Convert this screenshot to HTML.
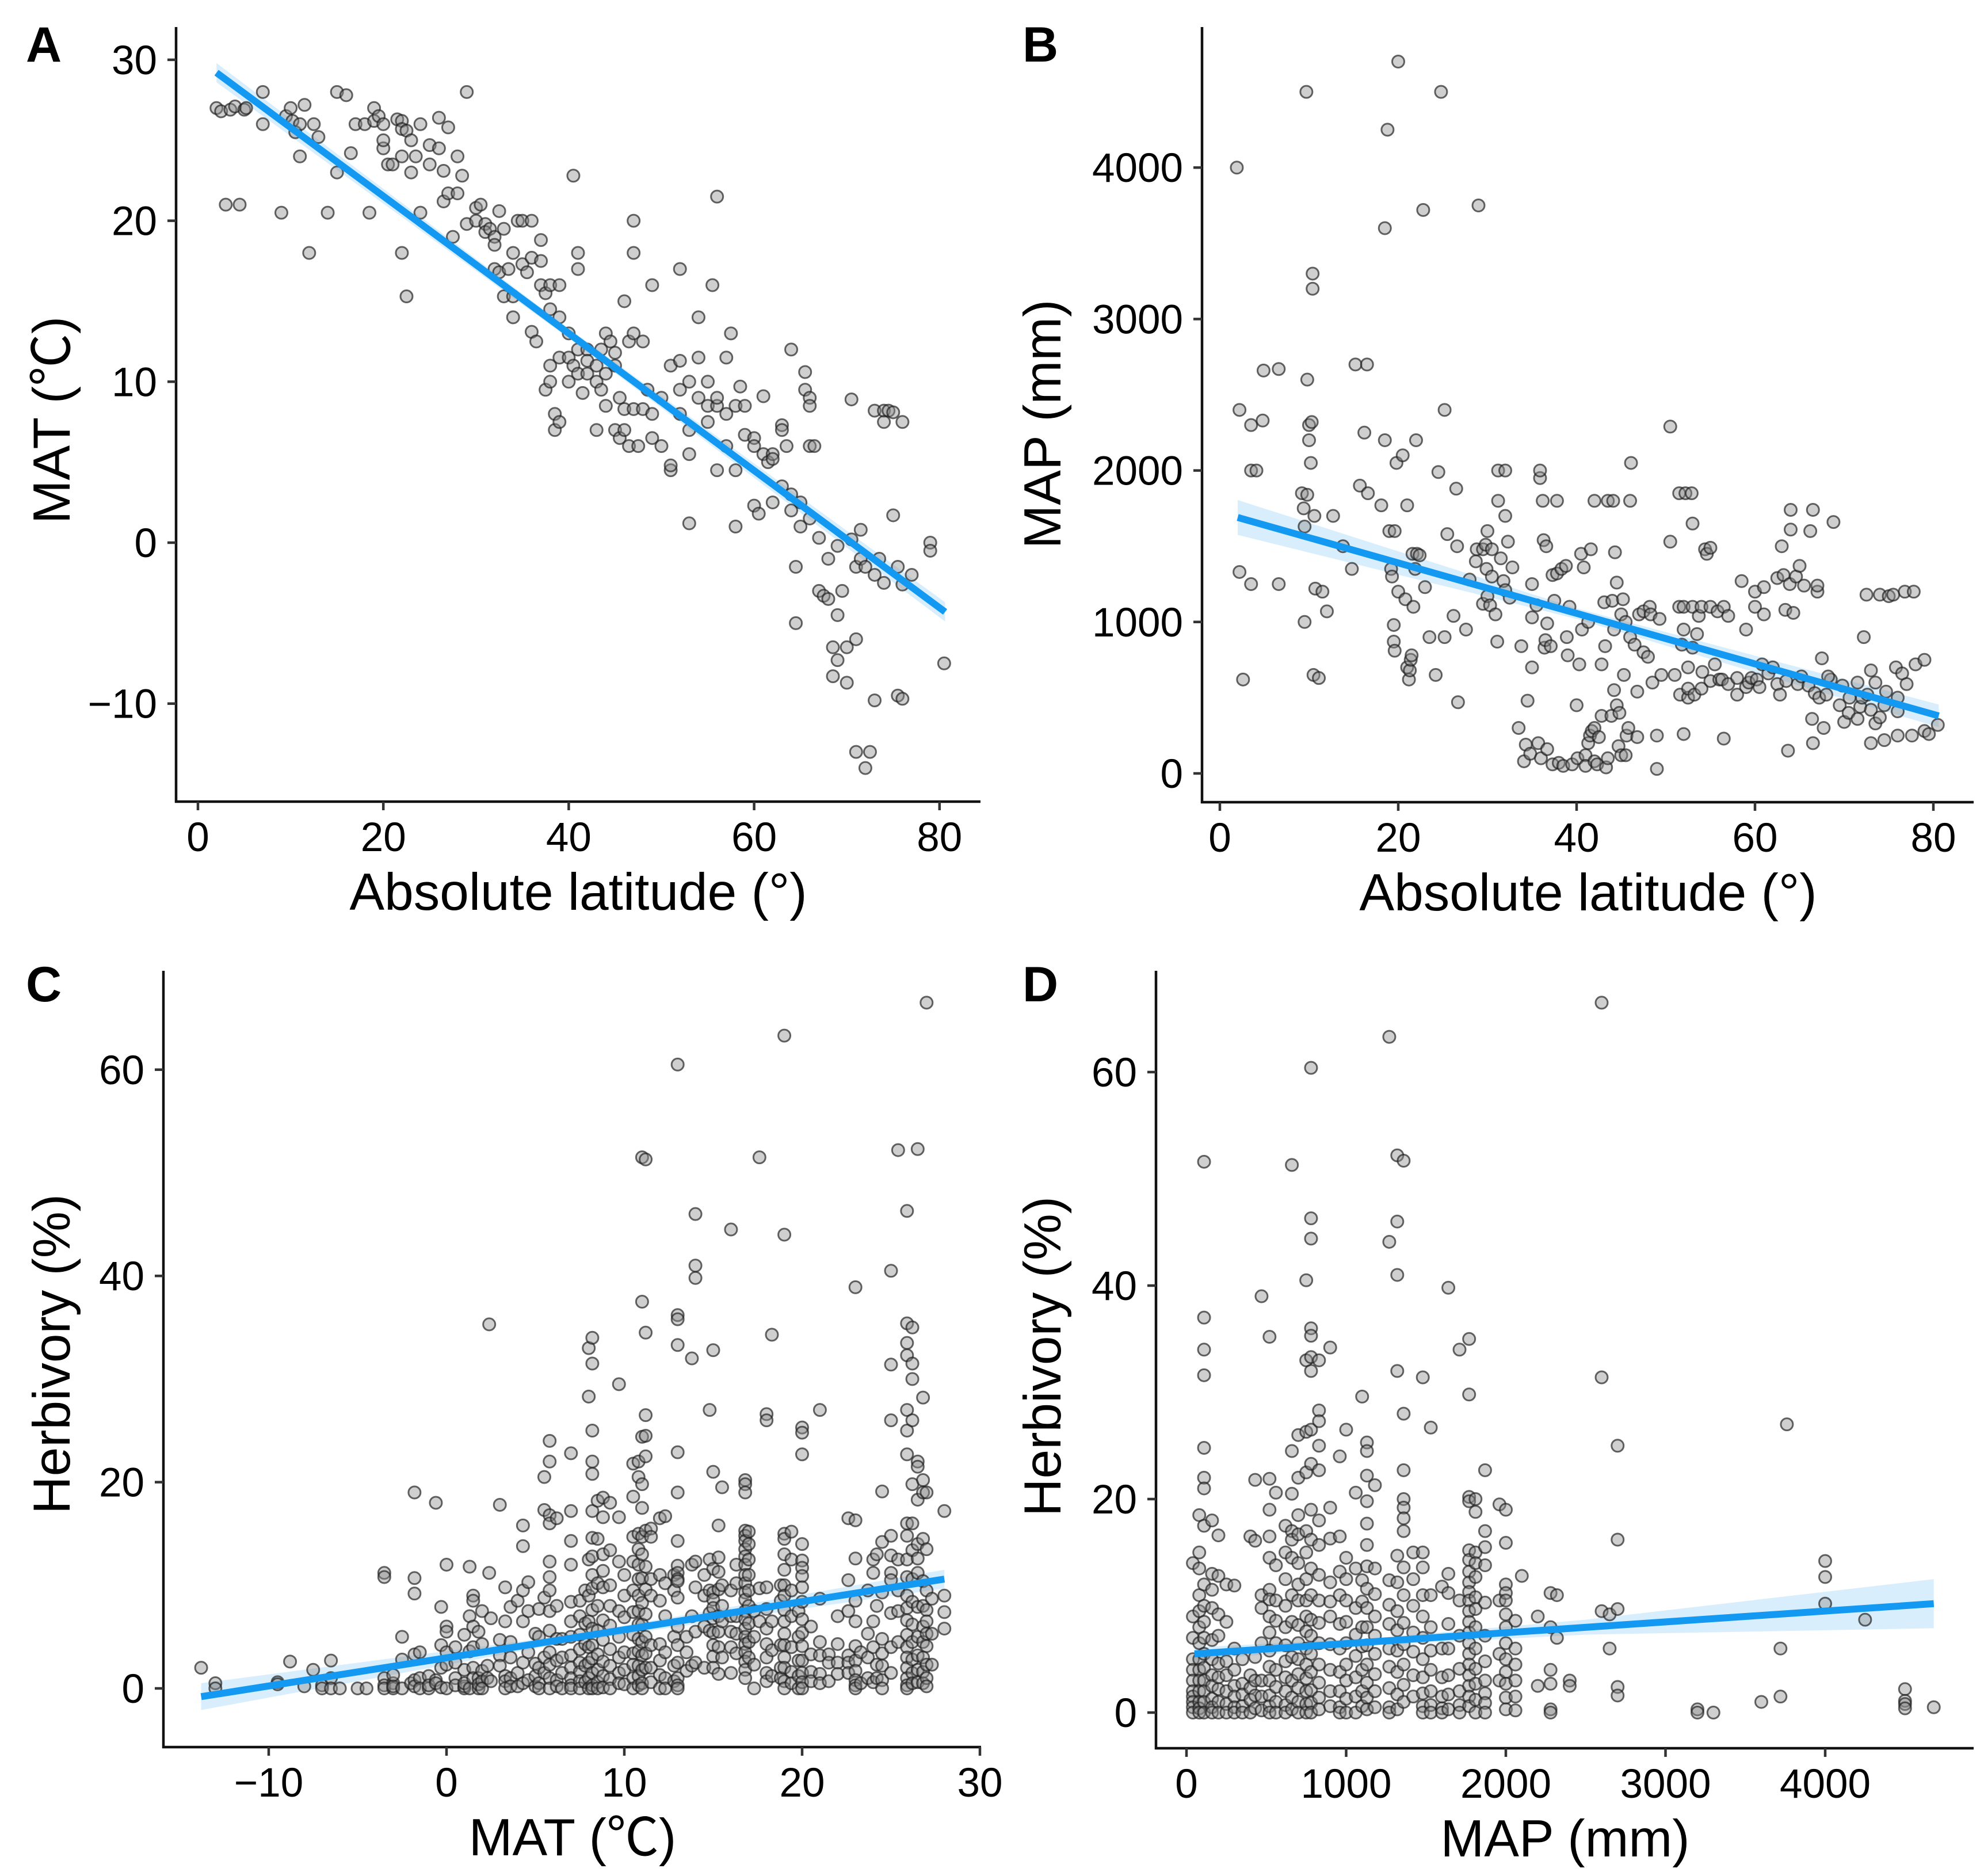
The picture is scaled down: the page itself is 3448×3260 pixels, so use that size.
<!DOCTYPE html>
<html><head><meta charset="utf-8"><title>Climate and herbivory scatter plots</title>
<style>
html,body{margin:0;padding:0;background:#fff;}
svg{display:block;font-family:"Liberation Sans","Noto Sans CJK SC",sans-serif;}
</style></head>
<body>
<svg id="fig" width="3448" height="3260" viewBox="0 0 3448 3260" xmlns="http://www.w3.org/2000/svg"></svg>
<script>
// ---------- Panel A data: [absolute latitude, MAT] ----------
const pointsA = [[2,27],[2.5,26.8],[3,21],[3.5,26.9],[4,27.1],[4.5,21],[5,26.9],[5.2,27],[7,26],[7,28],[9,20.5],[9.5,26.5],[10,27],[10.2,26.2],[10.5,25.5],[11,26],[11,24],[11.5,27.2],[12,18],[12.5,26],[13,25.2],[14,20.5],[15,23],[15,28],[16,27.8],[16.5,24.2],[17,26],[18,26],[18.5,20.5],[19,26.2],[19,27],[19.5,26.5],[20,26],[20,24.5],[20,25],[20.5,23.5],[21,23.5],[21.5,26.3],[22,26.2],[22,25.7],[22,24],[22,18],[22.5,25.6],[22.5,15.3],[23,25],[23,23],[23.5,24],[24,26],[24,20.5],[25,24.7],[25,23.5],[26,26.4],[26,24.5],[26.5,23.1],[26.5,21.2],[27,21.7],[27,25.8],[27.5,19],[28,21.7],[28,24],[28.5,22.8],[29,28],[29,19.8],[30,20.8],[30,20],[30.5,21],[31,19.8],[31,19.3],[31.5,19.5],[32,19],[32,18.5],[32,17],[32.5,16.8],[32.5,20.6],[33,19.5],[33,15.3],[33.5,17],[34,18],[34,15.3],[34,14],[34.5,20],[35,20],[35,17.3],[35.5,16.8],[36,20],[36,17.7],[36,13.1],[36.5,12.5],[37,18.8],[37,17.5],[37,16],[37.5,15.5],[37.5,9.5],[38,16],[38,14.5],[38,11],[38,10],[38.5,8],[38.5,7],[39,14],[39,16],[39,11.5],[39,7.5],[40,13],[40,11.5],[40,10],[40.5,11],[40.5,22.8],[41,12],[41,10.5],[41,18],[41,17],[41.5,9.3],[42,12],[42,11.3],[42,10.5],[43,11],[43,10],[43,7],[43.5,9.5],[43.5,12],[44,13],[44,10.5],[44,8.5],[44.5,12.5],[45,11.8],[45,11],[45,7],[45.5,9],[45.5,6.5],[46,15],[46,8.3],[46,7],[46.5,12.5],[46.5,6],[47,20],[47,18],[47,13],[47,8.3],[47.5,6],[48,12.5],[48,8.3],[48.5,9.5],[49,16],[49,8],[49,6.5],[50,9],[50,6],[51,4.5],[51,4.8],[51,11],[52,11.3],[52,9.5],[52,8],[52,17],[53,10],[53,7],[53,5.5],[53,1.2],[54,11.5],[54,14],[54,9],[55,10],[55,8.5],[55,7.5],[55.5,16],[56,8.5],[56,4.5],[56,21.5],[56,9],[57,11.5],[57,8],[57,6],[57.5,13],[58,8.5],[58,4.5],[58,1],[58.5,9.7],[59,8.5],[59,6.7],[60,6.5],[60,6],[60,2.3],[60.5,1.8],[61,5.5],[61,9.1],[61.5,5],[62,5.5],[62,5.2],[62,2.5],[63,7.3],[63,7],[63,3.5],[63.5,6],[64,12],[64,3],[64,2],[64.5,-1.5],[64.5,-5],[65,2.5],[65,1],[65.5,10.6],[65.5,9.5],[66,9],[66,8.5],[66,1.5],[66,6],[66.5,6],[67,0.3],[67,-3],[67.5,-3.3],[68,-3.5],[68,-1],[68.5,-6.5],[68.5,-8.3],[69,-4.5],[69,-7.3],[69,-0.2],[69.5,-3],[70,-6.5],[70,-8.7],[70.5,8.9],[70.5,0.2],[71,-1.5],[71,-6],[71,-13],[71.5,0.8],[71.5,-1],[72,-1.5],[72,-14],[72.5,-13],[73,8.2],[73,-9.8],[73,-2],[73.5,-1],[74,8.2],[74,7.5],[74,-2.5],[74.5,8.2],[75,8.1],[75,1.7],[75.5,-1.5],[75.5,-9.5],[76,-2.6],[76,-9.7],[76,7.5],[77,-2],[79,0],[79,-0.5],[80.5,-7.5]];
const fitA = {x:[2,40,80.6], y:[29.2,13.0,-4.3], lo:[28.6,12.7,-4.9], hi:[29.8,13.3,-3.7]};
const ticksAx = [0,20,40,60,80];
const ticksAy = [-10,0,10,20,30];

// ---------- Panel B data: [absolute latitude, MAP] ----------
const pointsB = [[1.9,4000],[2.2,2400],[2.2,1330],[2.6,620],[3.5,2300],[3.5,1250],[3.5,2000],[4.1,2000],[4.8,2330],[6.6,2670],[6.6,1250],[4.9,2660],[9.2,1850],[9.4,1750],[9.5,1630],[9.5,1000],[9.7,4500],[9.8,2600],[9.8,1840],[10,2300],[10,2200],[10.2,2050],[10.3,2320],[10.6,1700],[10.5,650],[10.4,3300],[10.4,3200],[10.7,1220],[11.1,630],[11.5,1200],[12,1070],[12.7,1700],[13.8,1500],[14.8,1350],[15.2,2700],[15.7,1900],[16.5,2700],[16.6,1850],[16.2,2250],[18.1,1770],[18.5,2200],[18.5,3600],[18.8,4250],[19,1600],[19.2,1350],[19.3,1300],[19.5,980],[19.5,870],[19.6,810],[19.6,1600],[19.8,2050],[20,1200],[20,4700],[20.5,2100],[20.8,1150],[21,1770],[21,700],[21.2,620],[21.3,680],[21.4,750],[21.5,780],[21.7,1100],[21.6,1450],[21.9,1350],[22.1,1450],[22,2200],[22.4,1440],[22.8,3720],[23,1230],[23.5,900],[24.2,650],[24.5,1990],[24.8,4500],[25.2,900],[25.2,2400],[25.5,1580],[26.2,1040],[26.5,1880],[26.6,1500],[26.7,470],[27.6,950],[28,1280],[28.7,1400],[28.8,1480],[29,3750],[29.5,1120],[29.5,1480],[29.8,1510],[29.9,1350],[30,1600],[30,1170],[30.3,1110],[30.5,1300],[30.5,1480],[30.9,1050],[31.1,870],[31.2,2000],[31.2,1800],[31.5,1420],[31.8,1270],[32,1700],[32,1210],[32,2000],[32.3,1530],[32.5,1160],[32.8,1360],[33.5,300],[33.8,840],[34.1,80],[34.3,190],[34.5,480],[34.8,130],[35,700],[35,1250],[35,1030],[35.5,1110],[35.7,200],[35.9,1950],[35.9,2000],[36,100],[36.2,1800],[36.3,1540],[36.4,830],[36.5,880],[36.6,1500],[36.7,160],[36.7,990],[37.1,840],[37.3,1310],[37.3,60],[37.5,1140],[37.8,1800],[37.8,1320],[38,70],[38.3,1350],[38.5,50],[38.8,1370],[38.9,900],[39,780],[39.2,1100],[39.5,60],[40,450],[40.1,100],[40.3,720],[40.6,950],[40.5,1450],[40.8,1360],[41,120],[41,50],[41.3,1000],[41.3,200],[41.5,250],[41.6,1480],[41.7,280],[42,1800],[42,300],[42,80],[42.3,60],[42.5,240],[42.8,380],[42.8,720],[43.1,1130],[43.2,840],[43.3,40],[43.5,1800],[43.5,100],[43.9,380],[44,1140],[44.1,1800],[44.2,550],[44.2,950],[44.3,1460],[44.5,1260],[44.5,450],[44.7,180],[44.8,400],[45,1050],[45,120],[45.2,1150],[45.3,650],[45.5,1000],[45.5,120],[45.6,250],[45.8,300],[46,900],[46,1800],[46.1,2050],[46.5,850],[46.8,540],[46.8,240],[47,1050],[47.5,800],[47.5,1070],[48,770],[48.2,1100],[48.3,1050],[48.5,600],[49,250],[49,30],[49.3,1020],[49.5,650],[50.5,1530],[50.5,2290],[51,650],[51.5,1100],[51.5,1850],[51.6,520],[51.8,850],[52,950],[52,1100],[52,260],[52.2,1850],[52.5,700],[52.5,500],[52.5,560],[52.9,1850],[53,1650],[53,1100],[53,830],[53.2,520],[53.7,1040],[53.5,920],[54,1100],[54,560],[54.1,670],[54.4,1480],[54.6,1450],[55,1100],[55,1490],[55,610],[55.5,720],[55.8,1070],[56,620],[56.3,620],[56.5,230],[56.5,1100],[57,590],[57,1040],[58,630],[58,520],[58.5,1270],[59,570],[59,950],[59.3,600],[59.6,630],[60,1100],[60,1200],[60.2,620],[60.5,570],[61,1050],[61,1230],[61.5,660],[62.5,590],[62.5,1290],[62.8,520],[63,1500],[63.2,1310],[63.4,1080],[63.5,610],[63.7,150],[63.9,1250],[64,1740],[64,1610],[64.3,1060],[64.6,1300],[64.8,590],[65,1370],[65.5,1240],[66,580],[66.2,1600],[66.4,360],[66.5,200],[66.5,1740],[66.7,530],[67,1200],[67,1240],[67.2,500],[67.5,760],[67.7,300],[68,520],[68.5,620],[68.8,1660],[69.5,450],[70,340],[70.5,400],[71.5,360],[71.5,600],[71.8,440],[72,500],[72.2,900],[72.5,1180],[73,420],[73,200],[73,680],[73.5,600],[73.5,330],[74,370],[74,1180],[74.5,220],[74.5,450],[75,1170],[75.5,1180],[75.8,700],[76,500],[76,410],[76.8,1200],[76,250],[76.5,660],[77,590],[77.6,250],[77.8,1200],[78,720],[79,750],[79,280],[79.5,260],[80.5,320],[74.7,540],[72.6,520],[70.6,500],[69.8,580],[68.2,640],[65.2,640],[62,700],[60.8,720]];
const fitB = {x:[2,40,80.6], y:[1690,1055,380], lo:[1575,1020,305], hi:[1805,1090,455]};
const ticksBx = [0,20,40,60,80];
const ticksBy = [0,1000,2000,3000,4000];

// ---------- Panel C data: MAT column -> herbivory values ----------
const groupsC = [[-13.8,[2]],[-13,[0.5,0]],[-9.5,[0.6,0.4]],[-8.8,[2.6]],[-8,[0.2]],[-7.5,[1.8]],[-7,[0.3,0]],[-6.5,[2.7,1,0]],[-6,[0]],[-5,[0]],[-4.5,[0]],[-3.5,[11.2,10.8,1,0.3,0]],[-3,[0.5,0,0.2,1.3]],[-2.5,[2.8,0,5]],[-2,[0.5]],[-1.8,[19,10.7,9.2,3.3,0.8,0.2]],[-1.5,[3.5,1,0]],[-1,[1.2,0,0.3]],[-0.6,[18,0.8,0.5]],[-0.3,[7.9,4.2,2,0.1]],[0,[12,6,5.5,3.5,2.3,0]],[0.5,[4,2.5,1,0.3]],[1,[5.2,1.8,0,0.2,0.5]],[1.3,[11.8,7,3.6,0]],[1.5,[9,8.5,6,4,2,1]],[1.8,[5.5,1,0,0.4]],[2,[7.5,4.3,1.7,0.7,0]],[2.3,[2.2,1]],[2.4,[35.3,11.2]],[2.5,[6.8,0.7]],[3,[17.8,4.7,3.2,2.2]],[3.3,[9.8,6.5,1.2,0.7,0]],[3.6,[7.9,4.5,3,1,0.2]],[4,[8.5,1.5,0.2]],[4.3,[15.8,13.8,9.5,6.5,2.5,0.5]],[4.6,[10.3,7.5,3.5,0.8]],[5,[5.3,2.4,0.2,1.2]],[5.2,[7.7,5,2,0.5,0]],[5.5,[17.3,20.5,8.8,3,1.5]],[5.8,[24,22,16.8,16,12.3,10.8,9.5,7.5,5.6,3.5,2.3,1,0]],[6.2,[16.5,8,4.8,2.7,0.8,0.2]],[6.5,[4.8,3,1.5,0]],[7,[22.8,17.2,14.3,12,8.4,6.5,5,3.2,2,1,0.3,0]],[7.5,[8.5,7,5.2,3.8,2.5,1.6,0.7,0]],[7.8,[9.5,6.3,4.3,2.2,0.6]],[8,[33,28.3,12.5,9,6.5,4,2.5,1,0]],[8.2,[34,31.5,25,22,20.8,17.2,14.6,12.8,11,9.7,7.6,5.8,4.2,2.9,1.5,0.3,0]],[8.5,[18.2,14.5,10.2,8,5.6,3.3,1.8,0.6,0]],[8.8,[18.5,16.6,13,11.4,9.8,6.6,4.7,2.6,1.2,0.1]],[9.2,[18,13.4,10,8,6.1,3.8,2.2,0.9,0]],[9.7,[29.5,16.6,12.3,7.5,5,3,1.5,0.5]],[10,[11,9,6.9,3.5,1.8,0.4]],[10.5,[18.6,14.7,21.8,12.3,9.5,7.4,5.2,3.4,2.3,1,0]],[10.8,[22,20.5,15,13.5,12,10.6,9,7.5,6.2,4.8,3.6,2.2,1.2,0.3]],[11,[37.5,51.5,24.4,19.8,17.5,14.7,13,10.7,8.3,6.2,4.5,3.2,1.8,0.5,0]],[11.2,[51.3,34.5,26.5,24.5,22.5,15.3,11.8,9.6,7.2,5,3.4,2]],[11.5,[15.5,14.7,10.6,9,4.2,2,0.6]],[12,[16.5,11,8.5,4.3,2.7,1.3,0]],[12.3,[16.7,10.2,7,3.5,1,0]],[12.8,[11,9.5,5,2.2,0.7]],[13,[60.5,36.2,35.8,33.3,22.9,19,14.3,11.9,11.2,10.6,10.4,8.8,6,4.2,2.5,1,0.3,0]],[13.5,[3.5,1.7,5]],[13.8,[32,12,7,2.2]],[14,[46,41,39.8,12.3,9.8,5.5,2.5]],[14.5,[11,9,6,2]],[14.8,[27,12.5,9.5,7.3,5.6]],[15,[32.8,21,11.6,9.3,8.6,7.8,6.8,5.4,4.2,3.1,2]],[15.3,[15.8,12.7,11.3,9.6,7,5.5,4,1.4]],[15.5,[19.5,10,8,6.5,3]],[16,[44.5,9.5,7,5.5,4,1.5]],[16.3,[3.4,5.3,7,10.2,12]],[16.8,[20.2,19.8,19,15.3,14.8,14.3,13.5,12.8,12,11,10.2,9.3,8.6,7.5,6.7,5.8,5,4.3,3.5,2.6,1.8,1]],[17,[15.2,14,12.5,11,9.5,8,6.3,4.5,3]],[17.3,[7.5,5,2.3,0]],[17.6,[51.5,9.7,6.5]],[18,[26.6,26,9.8,7.7,5.8,4.3,3,1.5,0.7]],[18.3,[34.3,6.5,3.7,1.2]],[18.8,[10,8.5,4.2,2,1]],[19,[63.3,44,15,14.5,13,11.5,10,9,7.6,6.5,5.3,4.2,3,2,0.7,0]],[19.4,[15.2,12.5,9.5,7,4,1.6,0.5]],[19.8,[7.5,5,2.7,1.2,0]],[20,[25.3,24.8,22.7,14,12.4,11.7,10.9,9.8,8.4,6.7,5.4,4.1,2.7,1.5,0.6,0]],[20.5,[6,3.3,1.6,0.7]],[21,[27,8.7,4.5,3.2,1.4,0.5]],[21.5,[3.3,2.5,0.7]],[22,[7,4.3,2.5,1.4]],[22.6,[16.5,10.5,7.5,3.2,2.5,1.5]],[23,[38.9,16.3,12.6,8.5,6.5,4.1,2.7,1.7,0.8,0.3,0]],[23.3,[3.5,0.5]],[23.7,[9.5,5.3,3,1]],[24,[12.5,11.2,6.5,4,0.6]],[24.2,[13,8,2.3,1]],[24.5,[19.1,14.2,9.3,4.8,3.4,2.2,0.8,0]],[25,[40.5,31.4,26,14.8,12.9,11.2,10.5,7.3,4,1.5]],[25.4,[52.2,12.5,9.5,7.5,4.5]],[25.9,[46.3,35.4,33.5,32.3,27,25,22.7,16,14.8,12.5,10.8,9,7.8,6.6,5.2,4,3,2,1,0.3,0]],[26.2,[35,31.5,30,26,19.8,16,13.4,10.6,8.4,6.2,4.5,2.8,1.5,0.5]],[26.5,[52.3,22,21.5,18.3,14,12.6,11.2,7.9,5,3.2,1.8,0.6]],[26.8,[28.2,20.2,19,14.5,10.4,8,6,4.5,3,1.6,0.5]],[27,[66.5,19,13.5,9.5,7.6,6.5,5.3,4.1,2.3,1,0.2]],[27.3,[8.7,5.3,2.3]],[28,[17.2,9,7.4,5.8]]];
const fitC = {x:[-13.8,7,28], y:[-0.8,4.85,10.6], lo:[-2.1,4.5,9.7], hi:[0.5,5.2,11.5]};
const ticksCx = [-10,0,10,20,30];
const ticksCy = [0,20,40,60];

// ---------- Panel D data: MAP column -> herbivory values ----------
const groupsD = [[40,[14,9,7,5,4,3,2,1.5,1,0.5,0]],[80,[18.5,15,13.5,11,9.5,8,6.5,5,4,3,2,1,0.4,0]],[110,[51.6,37,34,31.6,24.8,22,21,17.5,12,10,8.5,7,5.5,4.2,3,2,1,0]],[160,[18,13,11.5,9.8,6.8,5,3.5,2.5,1.3,0.5,0]],[200,[16.6,12.8,9.2,7.2,4.6,3.3,2.2,1,0]],[250,[12,8.5,4.8,3.5,2,0.8,0]],[300,[11.9,6,4,2.5,1.5,0.5,0]],[350,[5,2.7,1.7,0.6,0]],[400,[16.5,3.5,2.3,1.2,0]],[430,[21.8,16.1,5.2,3,1.6,0.4]],[470,[39,11,9.8,6.5,3,1.5,0.2]],[520,[35.2,21.9,19,16.5,14.5,11.5,10.6,9,7.5,5.8,4.3,3,1.6,0.6,0]],[560,[20.6,13.8,10.5,8.6,6.5,4,2.4,1,0]],[620,[17.5,15,12.5,10,8,6.3,4.8,3.3,2,0.7,0]],[660,[51.3,24.5,20.5,17,16.2,14.5,11,8.5,5.2,3,1.4,0.3]],[700,[26,22,18.5,16.7,14,12,10.5,8.2,6.5,5,3.6,2.3,1,0]],[750,[40.5,33,26.3,22.5,17,15,12.5,10.5,9,7.6,6,4.5,3.2,2,0.8,0]],[780,[60.4,46.3,44.4,36,35.3,33.3,32,26.5,23.3,19,16.2,13.5,11,8.7,7.2,5.5,3.8,2.1,0.9,0]],[830,[33,28.3,27.3,25,22.7,18,15.7,12.9,10.5,8.4,6.5,4.5,2.8,1.4,0.3]],[900,[34.2,19.2,16.3,12.2,10.4,9,6.4,4,2,0.6]],[960,[24,16.5,13.2,11,8.3,6,3.8,2,0.5,0]],[1000,[26.5,14.5,12.5,10.5,8.5,6.5,4.5,3,1.3,0]],[1060,[20.6,13.5,9.8,7.3,5.3,3.3,1.5,0]],[1100,[29.6,12.4,10.4,8,6.2,4,2,0.6]],[1130,[25.3,24.5,22.2,19.8,17.7,15.7,13.7,11.6,9.8,8,6.3,4.5,2.8,1.4,0.3]],[1180,[21.3,13.5,11.1,9,7.2,5.5,3.6,2,0.5]],[1270,[63.3,44.1,12.4,10.1,8.3,6,4.3,2.3,0.5,0]],[1320,[52.2,46,41,32,14.7,12.2,9.5,7.7,5.8,3.8,1.7,0.3]],[1360,[51.7,28,22.7,20,19.2,18.2,17,13.6,11,8.4,6.4,4.5,2.6,1]],[1420,[15,12.5,10,7.5,5.7,3.5,1.5]],[1480,[31.4,15,13.6,11,9,7,5,3.3,1.8,0.6,0]],[1530,[26.7,11,8,5.8,4,2,0.7,0]],[1600,[11.8,6,3.3,1.5,0.4,0]],[1640,[39.8,13,11.2,8.3,6,3.5,1.7,0.3]],[1710,[34,10.5,7.2,4.1,2,0.7,0]],[1770,[35,29.8,20.2,19.8,15.2,14.3,13.2,12.2,11.3,10.5,9.5,8.5,7.5,6.5,5.5,4.5,3.5,2.5,1.5,0.6]],[1810,[20,18.8,15,14,12.7,10.8,9.7,8,6,4.1,2.7,1.2,0]],[1870,[22.7,17,15.5,13.8,10.3,7.2,4.8,3,1.8,0.9,0]],[1960,[19.5,10.5,5.5,3]],[2000,[19,15.9,12,11.2,10.5,9.2,8,6.5,5,3.8,2.7,1.4,0.3]],[2060,[8.6,6,4.5,3,1.5,0.2]],[2100,[12.8]],[2200,[9,2.5]],[2280,[8,4,2.7,0.3,0,11.2]],[2320,[7,11]],[2400,[3,2.5]],[2600,[66.5,31.4,9.5]],[2650,[9.2,6]],[2700,[25,16.2,9.7,2.4,1.6]],[3200,[0.3,0]],[3300,[0]],[3600,[1]],[3720,[6,1.5]],[3760,[27]],[4000,[14.2,12.7,10.2]],[4250,[8.7]],[4500,[2.2,1.1,0.8,0.4]],[4680,[0.5]]];
const fitD = {x:[50,1200,2500,4680], y:[5.5,6.67,7.99,10.2], lo:[4.9,6.3,7.3,7.9], hi:[6.1,7.0,8.7,12.5]};
const ticksDx = [0,1000,2000,3000,4000];
const ticksDy = [0,20,40,60];

// ---------- drawing ----------
const NS = 'http://www.w3.org/2000/svg';
const svg = document.getElementById('fig');
function mk(tag, attrs, parent){
  const e = document.createElementNS(NS, tag);
  for (const k in attrs) e.setAttribute(k, attrs[k]);
  (parent||svg).appendChild(e);
  return e;
}
function fmt(v){ return v<0 ? '\u2212'+Math.abs(v) : String(v); }

function drawPanel(cfg){
  const g = mk('g', {});
  
  
  const sx = v => cfg.x0 + (v - cfg.xv0) * cfg.kx;
  const sy = v => cfg.y0 - (v - cfg.yv0) * cfg.ky;

  const f = cfg.fit;
  let d = '';
  f.x.forEach((x,i)=>{ d += (i?'L':'M') + sx(x) + ',' + sy(f.hi[i]); });
  for (let i=f.x.length-1;i>=0;i--) d += 'L' + sx(f.x[i]) + ',' + sy(f.lo[i]);
  const rib = mk('path', {d: d+'Z', fill:'rgba(120,195,245,0.28)', stroke:'none'}, g);
  
  

  const pg = mk('g', {}, g);
  
  
  cfg.points.forEach(p=>{
    const c = mk('circle', {cx: sx(p[0]), cy: sy(p[1]), r: 10.5, fill:'rgba(140,140,140,0.42)', stroke:'rgba(30,30,30,0.68)', 'stroke-width':3}, pg);
    
    
  });

  const n = f.x.length-1;
  const ln = mk('line', {x1:sx(f.x[0]), y1:sy(f.y[0]), x2:sx(f.x[n]), y2:sy(f.y[n]), stroke:'#1399f2', 'stroke-width':12}, g);
  
  

  const ya = mk('line', {x1:cfg.ax, y1:cfg.top, x2:cfg.ax, y2:cfg.ay+2, stroke:'#111', 'stroke-width':4.5}, g);
  
  
  const xa = mk('line', {x1:cfg.ax-2, y1:cfg.ay, x2:cfg.right, y2:cfg.ay, stroke:'#111', 'stroke-width':4.5}, g);
  
  

  cfg.xt.forEach(v=>{
    const x = sx(v);
    const t = mk('line', {x1:x, y1:cfg.ay, x2:x, y2:cfg.ay+15, stroke:'#333', 'stroke-width':4.5}, g);
    
    
    const tx = mk('text', {x:x, y:cfg.ay+86, 'font-size':71, 'text-anchor':'middle', fill:'#000'}, g);
    tx.textContent = fmt(v);
    
    
  });
  cfg.yt.forEach(v=>{
    const y = sy(v);
    const t = mk('line', {x1:cfg.ax-15, y1:y, x2:cfg.ax, y2:y, stroke:'#333', 'stroke-width':4.5}, g);
    
    
    const tx = mk('text', {x:cfg.ax-33, y:y+25, 'font-size':71, 'text-anchor':'end', fill:'#000'}, g);
    tx.textContent = fmt(v);
    
    
  });

  const xt = mk('text', {x:cfg.xtx, y:cfg.ay+188, 'font-size':91, 'text-anchor':'middle', fill:'#000'}, g);
  xt.textContent = cfg.xtitle;
  
  
  const yt = mk('text', {x:0, y:0, 'font-size':91, 'text-anchor':'middle', fill:'#000', transform:'translate('+cfg.ytx+','+cfg.yty+') rotate(-90)'}, g);
  yt.textContent = cfg.ytitle;
  
  
  const lb = mk('text', {x:cfg.lx, y:cfg.ly, 'font-size':86, 'font-weight':'bold', fill:'#000'}, g);
  lb.textContent = cfg.id;
  
  
}
function expand(groups){ const out=[]; groups.forEach(gr=>gr[1].forEach(v=>out.push([gr[0],v]))); return out; }

drawPanel({id:'A', points:pointsA, fit:fitA, xt:ticksAx, yt:ticksAy,
  x0:344, xv0:0, kx:16.11, y0:943, yv0:0, ky:27.97,
  ax:306, ay:1393, top:47, right:1704,
  xtitle:'Absolute latitude (°)', xtx:1005, ytitle:'MAT (℃)', ytx:121, yty:730, lx:45, ly:107});
drawPanel({id:'B', points:pointsB, fit:fitB, xt:ticksBx, yt:ticksBy,
  x0:2120, xv0:0, kx:15.5, y0:1344, yv0:0, ky:0.2632,
  ax:2089, ay:1394, top:47, right:3430,
  xtitle:'Absolute latitude (°)', xtx:2760, ytitle:'MAP (mm)', ytx:1843, yty:737, lx:1777, ly:107});
drawPanel({id:'C', points:expand(groupsC), fit:fitC, xt:ticksCx, yt:ticksCy,
  x0:776, xv0:0, kx:30.9, y0:2934, yv0:0, ky:17.92,
  ax:284, ay:3036, top:1687, right:1705,
  xtitle:'MAT (℃)', xtx:995, ytitle:'Herbivory (%)', ytx:121, yty:2353, lx:45, ly:1740});
drawPanel({id:'D', points:expand(groupsD), fit:fitD, xt:ticksDx, yt:ticksDy,
  x0:2062, xv0:0, kx:0.2775, y0:2976, yv0:0, ky:18.55,
  ax:2009, ay:3038, top:1687, right:3430,
  xtitle:'MAP (mm)', xtx:2720, ytitle:'Herbivory (%)', ytx:1843, yty:2357, lx:1777, ly:1740});
</script>
</body></html>
